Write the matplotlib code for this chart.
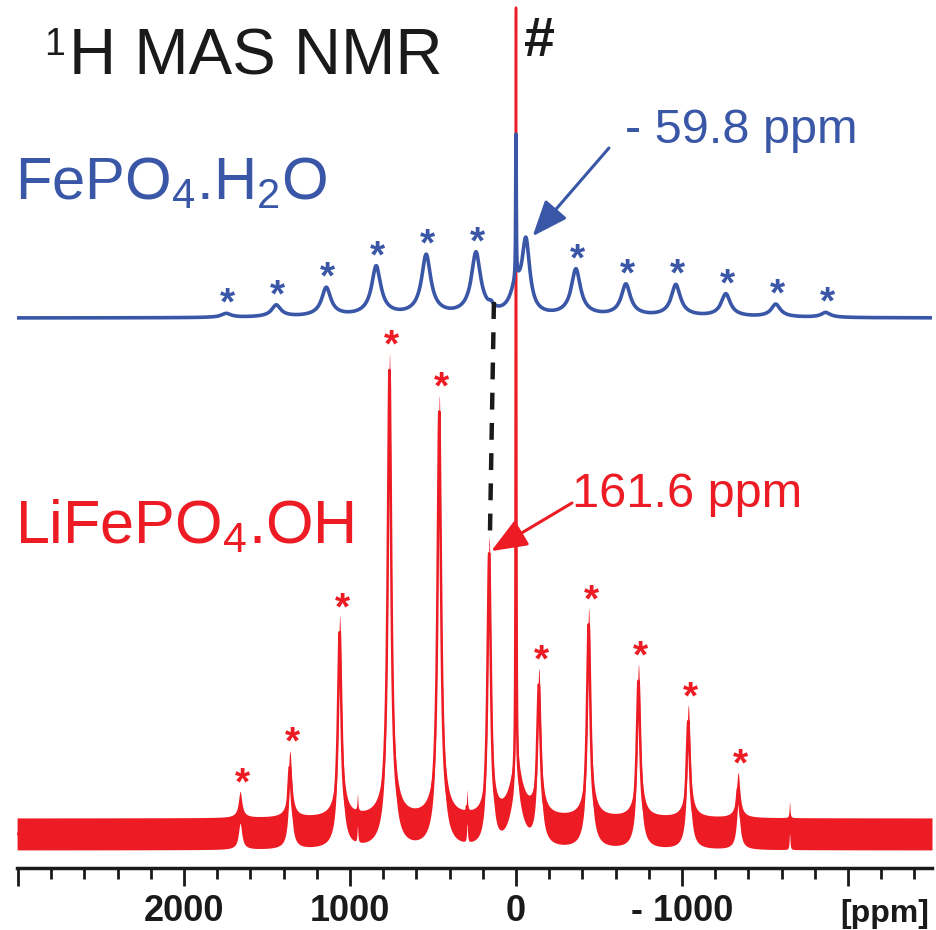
import numpy as np
import matplotlib
matplotlib.use("Agg")
import matplotlib.pyplot as plt
from matplotlib.ticker import MultipleLocator

plt.rcParams['font.family'] = ['Liberation Sans', 'DejaVu Sans']
plt.rcParams['mathtext.fontset'] = 'custom'
plt.rcParams['mathtext.rm'] = 'Liberation Sans'
plt.rcParams['mathtext.it'] = 'Liberation Sans'
plt.rcParams['mathtext.bf'] = 'Liberation Sans:bold'

BLUE = '#3A57A7'
RED = '#ED1C24'

# FePO4.H2O (blue) -- spinning sidebands
blue_ssb_ppm = [1745, 1444, 1143, 842, 541, 241, -361, -662, -963, -1264, -1565, -1866]
blue_ssb_height = [4, 12, 29, 50, 61, 63, 47, 32, 32, 23, 13, 5]
# other blue lines: small bump, sharp # line (narrow + broad foot), centre band
blue_line_ppm = [150, 0, 0, -59.8]
blue_line_height = [4, 143, 25, 70]
blue_line_width = [15, 2, 40, 28]
blue_offset = 550

# LiFePO4.OH (red) -- spinning sidebands
red_ssb_ppm = [1662, 1362, 1062, 762, 462, -138, -438, -738, -1038, -1338]
red_ssb_height = [26, 66, 200, 462, 420, 143, 208, 152, 112, 45]
# other red lines: centre band, # line (narrow + foot), small spikes
red_line_ppm = [161.6, 0, 0, 295, 955, -1648]
red_line_height = [275, 772, 50, 20, 16, 16]
red_line_width = [12, 2, 45, 3, 3, 3]
red_offset = 34
red_noise = 16

tick_pos = [3000, 2000, 1000, 0, -1000, -2000]
tick_text = ['', '2000', '1000', '0', '- 1000', '']


def lorentz(x, x0, h, w):
    return h / (1 + ((x - x0) / w) ** 2)


ppm = np.arange(-2506, 3006, 0.5)

blue = np.zeros_like(ppm)
for p, h in zip(blue_ssb_ppm, blue_ssb_height):
    blue += 0.9 * lorentz(ppm, p, h, 32) + 0.1 * lorentz(ppm, p, h, 96)
for p, h, w in zip(blue_line_ppm, blue_line_height, blue_line_width):
    blue += lorentz(ppm, p, h, w)
blue += blue_offset

red = np.zeros_like(ppm)
for p, h in zip(red_ssb_ppm, red_ssb_height):
    red += 0.93 * lorentz(ppm, p, h, 12) + 0.07 * lorentz(ppm, p, h, 40)
for p, h, w in zip(red_line_ppm, red_line_height, red_line_width):
    red += lorentz(ppm, p, h, w)
red += red_offset

fig = plt.figure(figsize=(9.36, 9.30), dpi=100)
ax = fig.add_axes([17 / 936, 62 / 930, 915 / 936, 868 / 930])

ax.fill_between(ppm, red - red_noise, red + red_noise, color=RED, lw=0, zorder=2)
ax.plot(ppm, red, color=RED, lw=1.8, zorder=2)
ax.plot(ppm, blue, color=BLUE, lw=2.6, zorder=3)


def value_at(spec, p):
    return spec[np.argmin(np.abs(ppm - p))]


# asterisks over the spinning sidebands
for p in blue_ssb_ppm:
    top = value_at(blue, p) + 1.5
    ax.text(p - 8, top - 3, '*', color=BLUE, fontsize=28, fontweight='bold',
            ha='center', va='baseline', zorder=4)
for p in red_ssb_ppm:
    top = value_at(red, p) + red_noise
    ax.text(p - 14, top - 3, '*', color=RED, fontsize=28, fontweight='bold',
            ha='center', va='baseline', zorder=4)

# dashed guide from blue bump down to the red 161.6 ppm line
ax.plot([133, 157], [value_at(blue, 150) - 2, value_at(red, 161.6) + red_noise + 2],
        color='#1a1a1a', lw=3.2, dashes=(3.8, 3.0), zorder=5)

# annotations
ax.annotate('', xy=(-100, value_at(blue, -59.8) + 1), xytext=(-560, 720),
            arrowprops=dict(arrowstyle='-|>,head_length=1.0,head_width=0.4',
                            color=BLUE, lw=2.2, mutation_scale=22,
                            shrinkA=0, shrinkB=0), zorder=5)
ax.text(-657, 725, '- 59.8 ppm', color=BLUE, fontsize=35, ha='left', va='baseline')

ax.annotate('', xy=(150, value_at(red, 161.6) + red_noise - 14), xytext=(-337, 365),
            arrowprops=dict(arrowstyle='-|>,head_length=1.0,head_width=0.4',
                            color=RED, lw=2.2, mutation_scale=22,
                            shrinkA=0, shrinkB=0), zorder=5)
ax.text(-337, 361, '161.6 ppm', color=RED, fontsize=35, ha='left', va='baseline')

# title: small raised "1" then "H MAS NMR"
ax.text(2845, 813, '1', color='#1a1a1a', fontsize=27, ha='left', va='baseline')
ax.text(2690, 793, 'H MAS NMR', color='#1a1a1a', fontsize=47, ha='left', va='baseline')
ax.text(3018, 668, 'FePO$_4$.H$_2$O', color=BLUE, fontsize=43, ha='left', va='baseline')
ax.text(3018, 325, 'LiFePO$_4$.OH', color=RED, fontsize=44, ha='left', va='baseline')
ax.text(-48, 812, '#', color='#1a1a1a', fontsize=40, fontweight='bold', ha='left', va='baseline')
ax.text(-2223, -54, '[ppm]', color='#1a1a1a', fontsize=23, fontweight='bold',
        ha='center', va='baseline', clip_on=False)

ax.set_xlim(3006, -2506)
ax.set_ylim(0, 868)
ax.set_xticks(tick_pos)
ax.set_xticklabels(tick_text, fontsize=26, fontweight='bold', color='#1a1a1a')
ax.xaxis.set_minor_locator(MultipleLocator(200))
ax.tick_params(axis='x', which='major', length=13, width=2, pad=6, color='#1a1a1a')
ax.tick_params(axis='x', which='minor', length=8, width=2, color='#1a1a1a')
ax.set_yticks([])
for s in ['top', 'left', 'right']:
    ax.spines[s].set_visible(False)
ax.spines['bottom'].set_linewidth(2.5)
ax.spines['bottom'].set_color('#1a1a1a')
ax.patch.set_alpha(0)

fig.savefig('out.png', dpi=100)
